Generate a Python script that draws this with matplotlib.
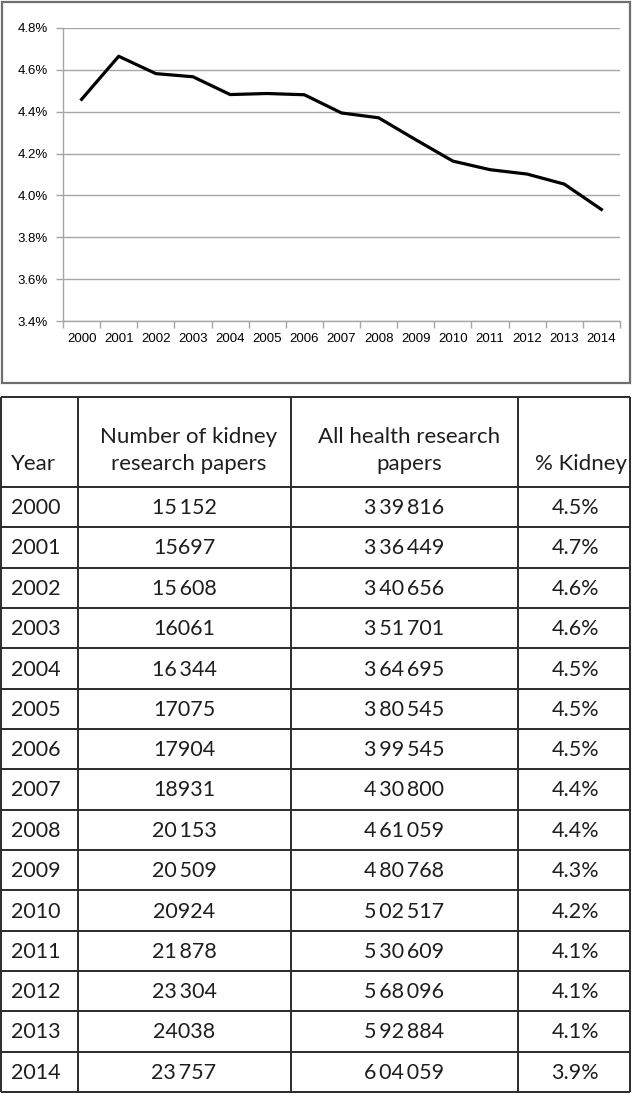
import matplotlib
matplotlib.use("Agg")
import matplotlib.pyplot as plt
from matplotlib.patches import Rectangle
from matplotlib.ticker import FixedLocator, NullFormatter

# data
years = ["2000", "2001", "2002", "2003", "2004", "2005", "2006", "2007",
         "2008", "2009", "2010", "2011", "2012", "2013", "2014"]
pct_kidney = [4.459, 4.665, 4.582, 4.567, 4.482, 4.487, 4.481, 4.394,
              4.371, 4.266, 4.164, 4.123, 4.102, 4.054, 3.933]
y_ticks = [3.4, 3.6, 3.8, 4.0, 4.2, 4.4, 4.6, 4.8]

T = "\u2009"
kidney_papers = ["15" + T + "152", "15697", "15" + T + "608", "16061", "16" + T + "344",
                 "17075", "17904", "18931", "20" + T + "153", "20" + T + "509",
                 "20924", "21" + T + "878", "23" + T + "304", "24038", "23" + T + "757"]
all_papers = ["3" + T + "39" + T + "816", "3" + T + "36" + T + "449", "3" + T + "40" + T + "656",
              "3" + T + "51" + T + "701", "3" + T + "64" + T + "695", "3" + T + "80" + T + "545",
              "3" + T + "99" + T + "545", "4" + T + "30" + T + "800", "4" + T + "61" + T + "059",
              "4" + T + "80" + T + "768", "5" + T + "02" + T + "517", "5" + T + "30" + T + "609",
              "5" + T + "68" + T + "096", "5" + T + "92" + T + "884", "6" + T + "04" + T + "059"]
pct_table = ["4.5%", "4.7%", "4.6%", "4.6%", "4.5%", "4.5%", "4.5%", "4.4%",
             "4.4%", "4.3%", "4.2%", "4.1%", "4.1%", "4.1%", "3.9%"]
headers = ["Year", "Number of kidney\nresearch papers", "All health research\npapers", "% Kidney"]

W, H = 632, 1094
fig = plt.figure(figsize=(W / 100, H / 100), dpi=100)

# box around the chart
fig.add_artist(Rectangle((1.5 / W, 1 - 383 / H), 628 / W, 381.5 / H,
                         transform=fig.transFigure, fill=False, ec="#6e6e6e", lw=1.6))

tick_font = ["Liberation Sans Narrow", "Liberation Sans", "DejaVu Sans"]
grid_c = "#a6a6a6"

ax = fig.add_axes([63 / W, 1 - 321 / H, 557 / W, 293 / H])
x = list(range(len(years)))
ax.plot(x, pct_kidney, color="black", lw=2.3, solid_joinstyle="round", zorder=3)
ax.set_xlim(-0.5, len(years) - 0.5)
ax.set_ylim(3.4, 4.8)
ax.set_yticks(y_ticks)
ax.set_yticklabels(["%.1f%%" % v for v in y_ticks], fontfamily=tick_font, fontsize=9.5)
ax.xaxis.set_major_locator(FixedLocator([i - 0.5 for i in range(len(years) + 1)]))
ax.xaxis.set_major_formatter(NullFormatter())
ax.set_xticks(x, minor=True)
ax.set_xticklabels(years, minor=True, fontfamily=tick_font, fontsize=9.5)
ax.tick_params(axis="x", which="major", length=5, color=grid_c, width=1)
ax.tick_params(axis="x", which="minor", length=0, pad=9)
ax.tick_params(axis="y", length=5, color=grid_c, width=1, pad=6)
ax.grid(axis="y", color=grid_c, lw=1)
ax.set_axisbelow(True)
for s in ["top", "right"]:
    ax.spines[s].set_visible(False)
for s in ["left", "bottom"]:
    ax.spines[s].set_color(grid_c)
    ax.spines[s].set_linewidth(1)

# table drawn in pixel coordinates
tab = fig.add_axes([0, 0, 1, 1], facecolor="none")
tab.set_xlim(0, W)
tab.set_ylim(H, 0)
tab.axis("off")

col_edges = [1, 78, 291, 518, 630]
top, head_bot, bot = 397, 487, 1092
row_h = (bot - head_bot) / len(years)
row_edges = [top] + [head_bot + i * row_h for i in range(len(years) + 1)]
line_c = "#2b2b2b"
tab.vlines(col_edges, top, bot, color=line_c, lw=1.4)
tab.hlines(row_edges, col_edges[0], col_edges[-1], color=line_c, lw=1.4)

tfont = ["Lato", "DejaVu Sans"]
fs = 15.5
hfs = 16
txt_c = "#1e1e1e"
head_y = 470
tab.text(11, head_y, headers[0], ha="left", va="baseline", fontsize=hfs, family=tfont, color=txt_c)
tab.text(189, head_y, headers[1], ha="center", va="baseline", fontsize=hfs, family=tfont,
         color=txt_c, linespacing=1.45, multialignment="center")
tab.text(409, head_y, headers[2], ha="center", va="baseline", fontsize=hfs, family=tfont,
         color=txt_c, linespacing=1.45, multialignment="center")
tab.text(627, head_y, headers[3], ha="right", va="baseline", fontsize=hfs, family=tfont, color=txt_c)

for i in range(len(years)):
    yc = head_bot + (i + 0.5) * row_h + 1
    tab.text(11, yc, years[i], ha="left", va="center", fontsize=fs, family=tfont, color=txt_c)
    tab.text(184, yc, kidney_papers[i], ha="center", va="center", fontsize=fs, family=tfont, color=txt_c)
    tab.text(404, yc, all_papers[i], ha="center", va="center", fontsize=fs, family=tfont, color=txt_c)
    tab.text(599, yc, pct_table[i], ha="right", va="center", fontsize=fs, family=tfont, color=txt_c)

fig.savefig("out.png", dpi=100)
